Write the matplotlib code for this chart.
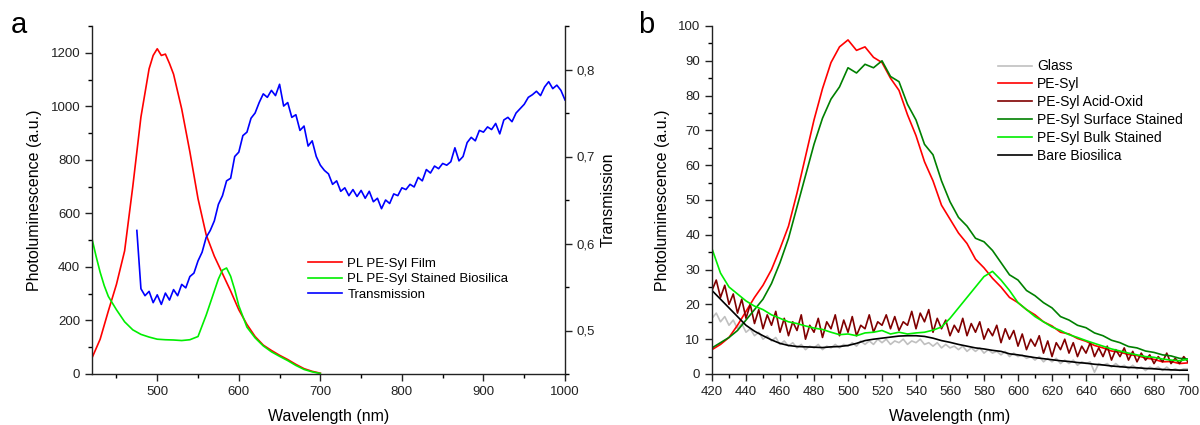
import numpy as np
import matplotlib
matplotlib.use("Agg")
import matplotlib.pyplot as plt
from matplotlib.ticker import MultipleLocator, FuncFormatter

plt.rcParams['font.family'] = ['Liberation Sans', 'DejaVu Sans']

# ---- panel a : PL of film / stained biosilica + transmission ----
wl_film = [420, 430, 440, 450, 460, 470, 480, 490, 495, 500, 505, 510, 515, 520, 530, 540,
           550, 560, 570, 580, 590, 600, 610, 620, 630, 640, 650, 660, 670, 680, 690, 700]
pl_film = [60, 130, 235, 335, 460, 700, 960, 1140, 1190, 1215, 1190, 1195, 1160, 1120, 990, 830,
           655, 520, 440, 375, 310, 240, 185, 140, 108, 88, 70, 54, 36, 20, 10, 3]

wl_stained = [420, 425, 430, 435, 440, 450, 460, 470, 480, 490, 500, 510, 520, 530, 540, 550,
              560, 570, 575, 580, 585, 590, 595, 600, 610, 620, 630, 640, 650, 660, 670, 680, 690, 700]
pl_stained = [505, 440, 380, 330, 290, 240, 195, 165, 148, 138, 130, 128, 127, 125, 128, 140,
              220, 310, 355, 388, 396, 365, 315, 255, 175, 135, 105, 83, 66, 50, 32, 17, 8, 2]

wl_trans = list(range(475, 1001, 5))
transmission = [0.615, 0.548, 0.540, 0.545, 0.532, 0.541, 0.530, 0.543, 0.535, 0.547,
                0.540, 0.553, 0.549, 0.562, 0.566, 0.580, 0.590, 0.607, 0.615, 0.626,
                0.645, 0.655, 0.672, 0.675, 0.700, 0.705, 0.724, 0.728, 0.744, 0.750,
                0.762, 0.772, 0.768, 0.776, 0.770, 0.783, 0.758, 0.762, 0.745, 0.748,
                0.730, 0.735, 0.712, 0.718, 0.700, 0.690, 0.684, 0.680, 0.668, 0.672,
                0.660, 0.664, 0.655, 0.662, 0.654, 0.661, 0.652, 0.660, 0.648, 0.652,
                0.640, 0.650, 0.646, 0.657, 0.655, 0.664, 0.662, 0.668, 0.665, 0.676,
                0.672, 0.685, 0.681, 0.689, 0.686, 0.692, 0.690, 0.694, 0.710, 0.695,
                0.700, 0.716, 0.722, 0.718, 0.730, 0.728, 0.734, 0.731, 0.738, 0.726,
                0.742, 0.745, 0.740, 0.750, 0.755, 0.760, 0.768, 0.771, 0.775, 0.770,
                0.780, 0.786, 0.778, 0.782, 0.776, 0.765]

# ---- panel b : PL of the different samples ----
wl_b = list(range(420, 701, 5))
pe_syl = [7, 8.5, 10.5, 14, 18, 22, 25.5, 30, 36, 42.5, 52, 62.5, 73, 82, 89.5, 94,
          96, 93, 94, 91, 89.5, 85, 81.5, 74.5, 68.5, 61, 55.5, 48.5, 44.5, 40.5, 37.5, 33,
          30.5, 27.5, 25, 22, 20.5, 18.5, 17, 15, 13.8, 12, 11.5, 10.2, 9.4, 8.2, 7.5,
          6.6, 6.3, 5.6, 5.3, 4.6, 4.2, 3.5, 3.6, 3.0, 3.2]
surface = [7.5, 9, 10.5, 12.5, 15.5, 18.5, 21.5, 26, 32, 39, 48, 57, 66, 73.5, 79, 82.5,
           88, 86.5, 89, 88, 90, 85.5, 84, 77.5, 73, 66, 63, 55.5, 49.5, 45, 42.5, 39,
           38, 35.5, 32, 28.5, 27, 24, 22.5, 20.5, 19, 16.5, 15.5, 14, 13.3, 11.8, 11,
           9.7, 9, 7.9, 7.5, 6.6, 6.2, 5.5, 5.2, 4.5, 4.3]
bulk = [36, 29, 25, 23, 21, 19.5, 18.5, 17, 16, 15, 14.5, 13.8, 13.2, 12.8, 12, 11.3,
        11.5, 11, 11.8, 12, 12.5, 11.5, 12, 11.5, 11.8, 12, 12.6, 13.5, 16, 19, 22, 25,
        28, 29.5, 27, 24, 20.5, 18.5, 16.5, 15, 13.5, 12.5, 11.3, 10.5, 9.6, 8.8, 8,
        7.2, 6.6, 6, 5.5, 5, 4.8, 4.3, 4, 3.8, 4.2]
bare = [24, 21.5, 19, 16.5, 14, 12.3, 11, 9.8, 8.8, 8.2, 7.9, 7.8, 7.7, 7.6, 7.8, 7.9,
        8.2, 8.8, 9.6, 10, 10.3, 10.6, 10.9, 11, 11, 10.8, 10.3, 9.6, 9.1, 8.5, 8, 7.5,
        7.2, 6.8, 6.5, 5.8, 5.5, 5.1, 4.7, 4.4, 4.1, 3.8, 3.6, 3.3, 3.1, 2.8, 2.6,
        2.3, 2.1, 1.9, 1.8, 1.6, 1.5, 1.3, 1.2, 1.1, 1.1]

wl_fine = [420 + 2.5 * i for i in range(113)]
glass = [16, 17.5, 15, 16.5, 14, 15.5, 13, 14.5, 12, 13, 11, 12, 10, 11, 9.5, 10.5,
         8.5, 9.5, 8, 9, 7.5, 8.5, 7, 8, 7.5, 8.5, 7, 8, 7.5, 8.5, 7.5, 8.5,
         8, 9, 8, 9.5, 8.5, 9.5, 8.5, 10, 9, 10, 8.5, 9.5, 9, 10, 8.5, 9.5,
         9, 10, 8.5, 9, 8, 9, 7.5, 8.5, 7.5, 8, 7, 8, 6.5, 7.5, 6.5, 7.5,
         6, 7, 6, 6.5, 5.5, 6.5, 5, 6, 5, 5.5, 4.5, 5, 4, 5, 3.5, 4.5,
         3.5, 4.5, 3, 4, 3, 4, 2.5, 3.5, 3, 3.5, 0.5, 3, 2.5, 3, 2, 3,
         2, 2.5, 1.5, 2.5, 1.5, 2, 1, 2, 1.5, 2, 1, 2, 1, 1.5, 1, 1.5, 1.5]
acid_oxid = [24, 27, 22, 25.5, 20, 23, 17.5, 21.5, 16, 20, 14.5, 18.5, 13, 17, 14, 18,
             12, 16, 11, 15, 12.5, 17, 10, 14, 12, 16, 10.5, 15, 13, 17, 11, 15.5,
             12, 16.5, 11, 14, 13, 17, 12, 15, 14, 17, 13, 16.5, 12.5, 15, 14, 18,
             13, 17.5, 15, 18.5, 12, 16, 13, 15.5, 11, 14, 12, 16, 11, 14.5, 12, 15,
             10, 13, 11, 14, 9, 13, 10, 12.5, 8, 11.5, 7, 10, 8, 11, 6, 9.5,
             5, 9, 7, 10, 6, 9, 5, 8, 6, 9, 5, 7.5, 5, 8, 4, 7,
             5, 7.5, 4, 6.5, 3.5, 6, 4, 5.5, 3, 5, 3.5, 6, 3, 4.5, 3, 5, 3.5]

LW = 1.2

fig = plt.figure(figsize=(12, 4.25), dpi=100)
ax_a = fig.add_axes([92 / 1200, 51 / 425, 473 / 1200, 348 / 425])
ax_b = fig.add_axes([712 / 1200, 51 / 425, 476 / 1200, 348 / 425])


def style_axis(ax):
    ax.tick_params(which='major', direction='out', length=5, width=1, labelsize=9.5, colors='#222222')
    ax.tick_params(which='minor', direction='out', length=3, width=1)
    for sp in ax.spines.values():
        sp.set_linewidth(1.0)
        sp.set_color('#222222')


# panel a
l1, = ax_a.plot(wl_film, pl_film, color='#ff0000', lw=LW, label='PL PE-Syl Film')
l2, = ax_a.plot(wl_stained, pl_stained, color='#00ee00', lw=LW, label='PL PE-Syl Stained Biosilica')
ax_a.set_xlim(420, 1000)
ax_a.set_ylim(0, 1300)
ax_a.xaxis.set_major_locator(MultipleLocator(100))
ax_a.xaxis.set_minor_locator(MultipleLocator(50))
ax_a.yaxis.set_major_locator(MultipleLocator(200))
ax_a.yaxis.set_minor_locator(MultipleLocator(100))
ax_a.spines['top'].set_visible(False)
ax_a.spines['right'].set_visible(False)
style_axis(ax_a)
ax_a.set_xlabel('Wavelength (nm)', fontsize=11.5, labelpad=8)
ax_a.set_ylabel('Photoluminescence (a.u.)', fontsize=11.5, labelpad=6)

ax_t = ax_a.twinx()
l3, = ax_t.plot(wl_trans, transmission, color='#0000ff', lw=LW, label='Transmission')
ax_t.set_ylim(0.45, 0.85)
ax_t.yaxis.set_major_locator(MultipleLocator(0.1))
ax_t.yaxis.set_minor_locator(MultipleLocator(0.05))
ax_t.yaxis.set_major_formatter(FuncFormatter(lambda v, p: f"{v:.1f}".replace('.', ',')))
for s in ['top', 'left', 'bottom']:
    ax_t.spines[s].set_visible(False)
style_axis(ax_t)
ax_t.set_ylabel('Transmission', fontsize=11.5, labelpad=4)

ax_a.legend(handles=[l1, l2, l3], loc='upper left', bbox_to_anchor=(0.445, 0.35),
            frameon=False, fontsize=9.5, handlelength=2.6, handletextpad=0.4,
            labelspacing=0.25, borderaxespad=0)

# panel b
ax_b.plot(wl_fine, glass, color='#c0c0c0', lw=LW, label='Glass')
ax_b.plot(wl_b, pe_syl, color='#ff0000', lw=LW, label='PE-Syl')
ax_b.plot(wl_fine, acid_oxid, color='#800000', lw=LW, label='PE-Syl Acid-Oxid')
ax_b.plot(wl_b, surface, color='#008000', lw=LW, label='PE-Syl Surface Stained')
ax_b.plot(wl_b, bulk, color='#00ee00', lw=LW, label='PE-Syl Bulk Stained')
ax_b.plot(wl_b, bare, color='#000000', lw=LW, label='Bare Biosilica')
ax_b.set_xlim(420, 700)
ax_b.set_ylim(0, 100)
ax_b.xaxis.set_major_locator(MultipleLocator(20))
ax_b.xaxis.set_minor_locator(MultipleLocator(10))
ax_b.yaxis.set_major_locator(MultipleLocator(10))
ax_b.yaxis.set_minor_locator(MultipleLocator(5))
ax_b.spines['top'].set_visible(False)
ax_b.spines['right'].set_visible(False)
style_axis(ax_b)
ax_b.set_xlabel('Wavelength (nm)', fontsize=11.5, labelpad=8)
ax_b.set_ylabel('Photoluminescence (a.u.)', fontsize=11.5, labelpad=6)
ax_b.legend(loc='upper left', bbox_to_anchor=(0.59, 0.92), frameon=False,
            fontsize=10, handlelength=2.4, handletextpad=0.4, labelspacing=0.28,
            borderaxespad=0)

fig.text(19 / 1200, 1 - 25 / 425, 'a', fontsize=21, ha='center', va='center')
fig.text(646 / 1200, 1 - 25 / 425, 'b', fontsize=21, ha='center', va='center')

fig.savefig('out.png', dpi=100)
